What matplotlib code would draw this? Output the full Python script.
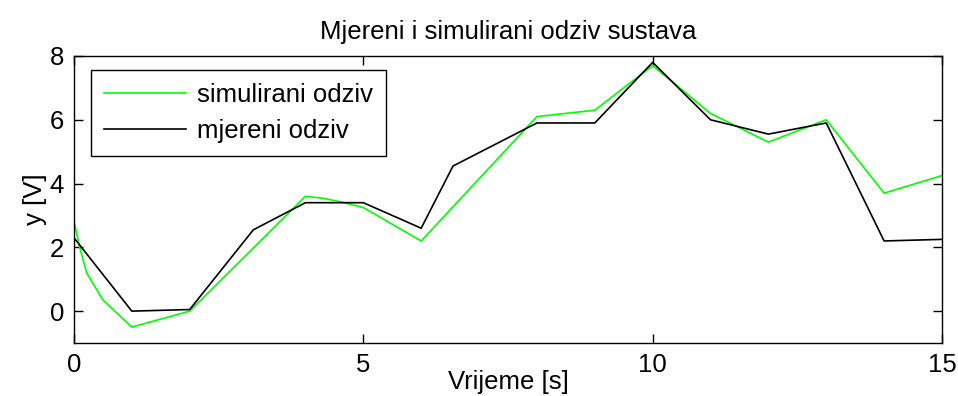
import matplotlib
matplotlib.use("Agg")
import matplotlib.pyplot as plt

plt.rcParams['font.family'] = ['Liberation Sans', 'DejaVu Sans']

# simulated response of the model
t_sim = [0, 0.1, 0.22, 0.5, 1, 2, 4, 4.3, 4.6, 5, 6, 8, 9, 10, 11, 12, 13, 14, 15]
y_sim = [2.83, 2.0, 1.2, 0.35, -0.5, 0.0, 3.6, 3.54, 3.43, 3.25, 2.2, 6.1, 6.3,
         7.7, 6.2, 5.3, 6.0, 3.7, 4.25]

# measured response
t_mj = [0, 1, 2, 3.1, 4, 5, 6, 6.55, 8, 9, 10, 11, 12, 13, 14, 15]
y_mj = [2.3, 0.0, 0.05, 2.55, 3.4, 3.4, 2.6, 4.55, 5.9, 5.9, 7.8, 6.0, 5.55,
        5.9, 2.2, 2.25]

xticks = [0, 5, 10, 15]
yticks = [0, 2, 4, 6, 8]

fs = 18.5

fig = plt.figure(figsize=(9.58, 3.96), dpi=100)
ax = fig.add_axes([0.0772, 0.1338, 0.9061, 0.7248])

ax.plot(t_sim, y_sim, color='#00ff00', lw=1.2, label='simulirani odziv')
ax.plot(t_mj, y_mj, color='black', lw=1.2, label='mjereni odziv')

ax.set_xlim(0, 15)
ax.set_ylim(-1, 8)
ax.set_xticks(xticks)
ax.set_yticks(yticks)
ax.tick_params(direction='in', length=6.5, width=1, top=True, right=True,
               labelsize=fs, pad=7)
for s in ax.spines.values():
    s.set_linewidth(1)

ax.set_title('Mjereni i simulirani odziv sustava', fontsize=fs, pad=12)
ax.set_xlabel('Vrijeme [s]', fontsize=fs, labelpad=-5)
ax.set_ylabel('y [V]', fontsize=fs, labelpad=2)

leg = ax.legend(loc='upper left', bbox_to_anchor=(0.02, 0.95), fontsize=fs,
                fancybox=False, framealpha=1, edgecolor='black',
                handlelength=3.2, handletextpad=0.4, labelspacing=0.45,
                borderpad=0.5, borderaxespad=0)
leg.get_frame().set_linewidth(1)

fig.savefig('out.png', dpi=100)
